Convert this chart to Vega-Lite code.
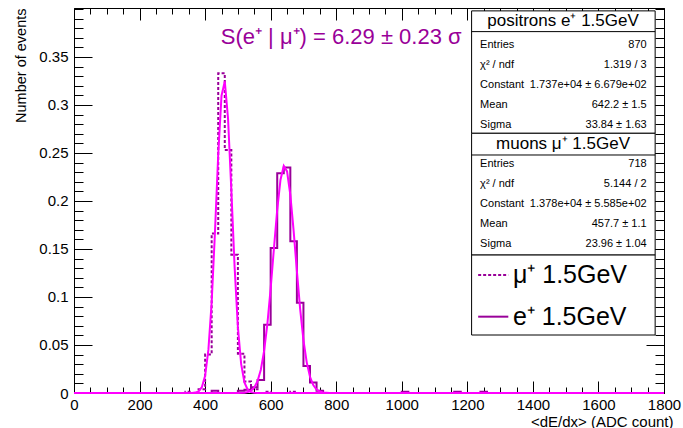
{
  "$schema": "https://vega.github.io/schema/vega-lite/v6.json",
  "width": 590,
  "height": 385,
  "autosize": "none",
  "padding": {"left": 74, "top": 8, "right": 19, "bottom": 35},
  "background": "white",
  "config": {
    "font": "Liberation Sans",
    "view": {"stroke": "black", "strokeWidth": 1},
    "axis": {"grid": false, "domain": false, "tickColor": "black", "tickWidth": 1, "labelColor": "black", "titleColor": "black", "titleFontWeight": "normal", "labelFlush": false}
  },
  "datasets": {
    "hist": [
      {"s": "mu", "x": 0, "v": 0}, {"s": "mu", "x": 340, "v": 0.0014}, {"s": "mu", "x": 360, "v": 0}, {"s": "mu", "x": 380, "v": 0.004},
      {"s": "mu", "x": 400, "v": 0.040}, {"s": "mu", "x": 420, "v": 0.166}, {"s": "mu", "x": 440, "v": 0.333}, {"s": "mu", "x": 460, "v": 0.253},
      {"s": "mu", "x": 480, "v": 0.144}, {"s": "mu", "x": 500, "v": 0.041}, {"s": "mu", "x": 520, "v": 0.012}, {"s": "mu", "x": 540, "v": 0.004},
      {"s": "mu", "x": 560, "v": 0}, {"s": "mu", "x": 580, "v": 0.0014}, {"s": "mu", "x": 600, "v": 0}, {"s": "mu", "x": 660, "v": 0.0014},
      {"s": "mu", "x": 680, "v": 0}, {"s": "mu", "x": 1800, "v": 0},
      {"s": "e", "x": 0, "v": 0}, {"s": "e", "x": 420, "v": 0.0023}, {"s": "e", "x": 440, "v": 0}, {"s": "e", "x": 500, "v": 0.0023},
      {"s": "e", "x": 520, "v": 0.0035}, {"s": "e", "x": 540, "v": 0.006}, {"s": "e", "x": 560, "v": 0.0135}, {"s": "e", "x": 580, "v": 0.071},
      {"s": "e", "x": 600, "v": 0.151}, {"s": "e", "x": 620, "v": 0.229}, {"s": "e", "x": 640, "v": 0.235}, {"s": "e", "x": 660, "v": 0.158},
      {"s": "e", "x": 680, "v": 0.094}, {"s": "e", "x": 700, "v": 0.028}, {"s": "e", "x": 720, "v": 0.011}, {"s": "e", "x": 740, "v": 0.0023},
      {"s": "e", "x": 760, "v": 0}, {"s": "e", "x": 1000, "v": 0.0012}, {"s": "e", "x": 1020, "v": 0}, {"s": "e", "x": 1160, "v": 0.0012},
      {"s": "e", "x": 1180, "v": 0}, {"s": "e", "x": 1240, "v": 0.0012}, {"s": "e", "x": 1260, "v": 0}, {"s": "e", "x": 1800, "v": 0}
    ],
    "fit": [
      {"s": "mu", "x": 0, "v": 0}, {"s": "mu", "x": 340, "v": 0}, {"s": "mu", "x": 360, "v": 0.0001}, {"s": "mu", "x": 370, "v": 0.0004},
      {"s": "mu", "x": 380, "v": 0.0017}, {"s": "mu", "x": 390, "v": 0.006}, {"s": "mu", "x": 400, "v": 0.0179}, {"s": "mu", "x": 410, "v": 0.0449},
      {"s": "mu", "x": 420, "v": 0.0945}, {"s": "mu", "x": 430, "v": 0.1671}, {"s": "mu", "x": 440, "v": 0.2481}, {"s": "mu", "x": 450, "v": 0.3096},
      {"s": "mu", "x": 460, "v": 0.3245}, {"s": "mu", "x": 470, "v": 0.2857}, {"s": "mu", "x": 480, "v": 0.2114}, {"s": "mu", "x": 490, "v": 0.1314},
      {"s": "mu", "x": 500, "v": 0.0686}, {"s": "mu", "x": 510, "v": 0.0301}, {"s": "mu", "x": 520, "v": 0.0111}, {"s": "mu", "x": 530, "v": 0.0034},
      {"s": "mu", "x": 540, "v": 0.0009}, {"s": "mu", "x": 550, "v": 0.0002}, {"s": "mu", "x": 560, "v": 0}, {"s": "mu", "x": 1800, "v": 0},
      {"s": "e", "x": 0, "v": 0}, {"s": "e", "x": 500, "v": 0}, {"s": "e", "x": 520, "v": 0.0003}, {"s": "e", "x": 530, "v": 0.001},
      {"s": "e", "x": 540, "v": 0.0025}, {"s": "e", "x": 550, "v": 0.0058}, {"s": "e", "x": 560, "v": 0.0124}, {"s": "e", "x": 570, "v": 0.0243},
      {"s": "e", "x": 580, "v": 0.0438}, {"s": "e", "x": 590, "v": 0.0721}, {"s": "e", "x": 600, "v": 0.1089}, {"s": "e", "x": 610, "v": 0.1507},
      {"s": "e", "x": 620, "v": 0.1911}, {"s": "e", "x": 630, "v": 0.2221}, {"s": "e", "x": 640, "v": 0.2365}, {"s": "e", "x": 650, "v": 0.2308},
      {"s": "e", "x": 660, "v": 0.2064}, {"s": "e", "x": 670, "v": 0.1691}, {"s": "e", "x": 680, "v": 0.127}, {"s": "e", "x": 690, "v": 0.0874},
      {"s": "e", "x": 700, "v": 0.0551}, {"s": "e", "x": 710, "v": 0.0319}, {"s": "e", "x": 720, "v": 0.0169}, {"s": "e", "x": 730, "v": 0.0082},
      {"s": "e", "x": 740, "v": 0.0036}, {"s": "e", "x": 750, "v": 0.0015}, {"s": "e", "x": 760, "v": 0.0006}, {"s": "e", "x": 780, "v": 0.0001},
      {"s": "e", "x": 800, "v": 0}, {"s": "e", "x": 1800, "v": 0}
    ],
    "stats": [
      {"line": 0, "label": "Entries", "value": "870"},
      {"line": 1, "label": "χ² / ndf", "value": "1.319 / 3"},
      {"line": 2, "label": "Constant", "value": "1.737e+04 ± 6.679e+02"},
      {"line": 3, "label": "Mean", "value": "642.2 ± 1.5"},
      {"line": 4, "label": "Sigma", "value": "33.84 ± 1.63"},
      {"line": 6, "label": "Entries", "value": "718"},
      {"line": 7, "label": "χ² / ndf", "value": "5.144 / 2"},
      {"line": 8, "label": "Constant", "value": "1.378e+04 ± 5.585e+02"},
      {"line": 9, "label": "Mean", "value": "457.7 ± 1.1"},
      {"line": 10, "label": "Sigma", "value": "23.96 ± 1.04"}
    ],
    "one": [{}]
  },
  "layer": [
    {
      "layer": [
        {
          "data": {"name": "hist"},
          "transform": [{"filter": "datum.s === 'mu'"}],
          "mark": {"type": "line", "interpolate": "step-after", "color": "#990099", "strokeWidth": 2, "strokeDash": [3, 2]},
          "encoding": {
            "x": {"field": "x", "type": "quantitative", "scale": {"domain": [0, 1800], "nice": false, "zero": false},
              "axis": {"orient": "bottom", "values": [0, 200, 400, 600, 800, 1000, 1200, 1400, 1600, 1800], "format": "d", "tickSize": -12, "labelPadding": 16, "labelFontSize": 15, "title": "<dE/dx> (ADC count)", "titleFontSize": 15, "titleAnchor": "end", "titleAlign": "right", "titleBaseline": "top", "titleX": 599, "titleY": 21}},
            "y": {"field": "v", "type": "quantitative", "scale": {"domain": [0, 0.401], "nice": false},
              "axis": {"orient": "left", "values": [0, 0.05, 0.1, 0.15, 0.2, 0.25, 0.3, 0.35], "format": "~g", "tickSize": -18, "labelPadding": 24, "labelFontSize": 15, "title": "Number of events", "titleFontSize": 14.5, "titleAnchor": "end", "titlePadding": 10}}
          }
        },
        {
          "data": {"name": "hist"},
          "transform": [{"filter": "datum.s === 'e'"}],
          "mark": {"type": "line", "interpolate": "step-after", "color": "#990099", "strokeWidth": 2},
          "encoding": {
            "x": {"field": "x", "type": "quantitative"},
            "y": {"field": "v", "type": "quantitative"}
          }
        },
        {
          "data": {"name": "fit"},
          "mark": {"type": "line", "color": "#ff00ff", "strokeWidth": 2},
          "encoding": {
            "x": {"field": "x", "type": "quantitative"},
            "y": {"field": "v", "type": "quantitative"},
            "detail": {"field": "s"}
          }
        },
        {
          "data": {"name": "one"},
          "mark": {"type": "text", "text": "S(e⁺ | μ⁺) = 6.29 ± 0.23 σ", "fontSize": 22, "color": "#990099", "align": "center", "baseline": "middle"},
          "encoding": {"x": {"datum": 815}, "y": {"datum": 0.371}}
        },
        {
          "data": {"name": "one"},
          "mark": {"type": "rect", "fill": "white", "stroke": "black", "strokeWidth": 1},
          "encoding": {"x": {"datum": 1213}, "x2": {"datum": 1773}, "y": {"datum": 0.398}, "y2": {"datum": 0.2705}}
        },
        {
          "data": {"name": "one"},
          "mark": {"type": "rect", "fill": "white", "stroke": "black", "strokeWidth": 1},
          "encoding": {"x": {"datum": 1213}, "x2": {"datum": 1773}, "y": {"datum": 0.2705}, "y2": {"datum": 0.1437}}
        },
        {
          "data": {"name": "one"},
          "mark": {"type": "rect", "fill": "white", "stroke": "black", "strokeWidth": 1},
          "encoding": {"x": {"datum": 1213}, "x2": {"datum": 1773}, "y": {"datum": 0.1437}, "y2": {"datum": 0.0604}}
        },
        {
          "data": {"name": "one"},
          "mark": {"type": "rule", "color": "black", "strokeWidth": 1},
          "encoding": {"x": {"datum": 1213}, "x2": {"datum": 1773}, "y": {"datum": 0.3764}}
        },
        {
          "data": {"name": "one"},
          "mark": {"type": "rule", "color": "black", "strokeWidth": 1},
          "encoding": {"x": {"datum": 1213}, "x2": {"datum": 1773}, "y": {"datum": 0.2479}}
        },
        {
          "data": {"name": "one"},
          "mark": {"type": "text", "text": "positrons e⁺ 1.5GeV", "fontSize": 17, "color": "black", "align": "center", "baseline": "middle"},
          "encoding": {"x": {"datum": 1492}, "y": {"datum": 0.3875}}
        },
        {
          "data": {"name": "one"},
          "mark": {"type": "text", "text": "muons μ⁺ 1.5GeV", "fontSize": 17, "color": "black", "align": "center", "baseline": "middle"},
          "encoding": {"x": {"datum": 1492}, "y": {"datum": 0.2594}}
        },
        {
          "data": {"name": "stats"},
          "mark": {"type": "text", "fontSize": 11, "color": "black", "align": "left", "baseline": "middle"},
          "encoding": {
            "x": {"datum": 1239}, "y": {"datum": 0.3625},
            "yOffset": {"field": "line", "type": "quantitative", "scale": {"domain": [0, 10], "range": [0, 199]}},
            "text": {"field": "label"}
          }
        },
        {
          "data": {"name": "stats"},
          "mark": {"type": "text", "fontSize": 11, "color": "black", "align": "right", "baseline": "middle"},
          "encoding": {
            "x": {"datum": 1747}, "y": {"datum": 0.3625},
            "yOffset": {"field": "line", "type": "quantitative", "scale": {"domain": [0, 10], "range": [0, 199]}},
            "text": {"field": "value"}
          }
        },
        {
          "data": {"name": "one"},
          "mark": {"type": "rule", "color": "#990099", "strokeWidth": 2, "strokeDash": [3, 2]},
          "encoding": {"x": {"datum": 1233}, "x2": {"datum": 1325}, "y": {"datum": 0.1229}}
        },
        {
          "data": {"name": "one"},
          "mark": {"type": "rule", "color": "#990099", "strokeWidth": 2},
          "encoding": {"x": {"datum": 1233}, "x2": {"datum": 1325}, "y": {"datum": 0.0795}}
        },
        {
          "data": {"name": "one"},
          "mark": {"type": "text", "text": "μ⁺ 1.5GeV", "fontSize": 25, "color": "black", "align": "left", "baseline": "middle"},
          "encoding": {"x": {"datum": 1339}, "y": {"datum": 0.1229}}
        },
        {
          "data": {"name": "one"},
          "mark": {"type": "text", "text": "e⁺ 1.5GeV", "fontSize": 25, "color": "black", "align": "left", "baseline": "middle"},
          "encoding": {"x": {"datum": 1339}, "y": {"datum": 0.0795}}
        }
      ]
    },
    {
      "data": {"name": "one"},
      "mark": {"type": "point", "opacity": 0},
      "encoding": {
        "x": {"datum": 0, "axis": {"orient": "bottom", "values": [0, 50, 100, 150, 200, 250, 300, 350, 400, 450, 500, 550, 600, 650, 700, 750, 800, 850, 900, 950, 1000, 1050, 1100, 1150, 1200, 1250, 1300, 1350, 1400, 1450, 1500, 1550, 1600, 1650, 1700, 1750, 1800], "tickSize": -6, "labels": false, "title": null}},
        "y": {"datum": 0, "axis": {"orient": "left", "values": [0, 0.01, 0.02, 0.03, 0.04, 0.05, 0.06, 0.07, 0.08, 0.09, 0.1, 0.11, 0.12, 0.13, 0.14, 0.15, 0.16, 0.17, 0.18, 0.19, 0.2, 0.21, 0.22, 0.23, 0.24, 0.25, 0.26, 0.27, 0.28, 0.29, 0.3, 0.31, 0.32, 0.33, 0.34, 0.35, 0.36, 0.37, 0.38, 0.39, 0.4], "tickSize": -9, "labels": false, "title": null}}
      }
    },
    {
      "data": {"name": "one"},
      "mark": {"type": "point", "opacity": 0},
      "encoding": {
        "x": {"datum": 0, "axis": {"orient": "top", "values": [0, 200, 400, 600, 800, 1000, 1200, 1400, 1600, 1800], "tickSize": -12, "labels": false, "title": null}},
        "y": {"datum": 0, "axis": {"orient": "right", "values": [0, 0.05, 0.1, 0.15, 0.2, 0.25, 0.3, 0.35], "tickSize": -18, "labels": false, "title": null}}
      }
    },
    {
      "data": {"name": "one"},
      "mark": {"type": "point", "opacity": 0},
      "encoding": {
        "x": {"datum": 0, "axis": {"orient": "top", "values": [0, 50, 100, 150, 200, 250, 300, 350, 400, 450, 500, 550, 600, 650, 700, 750, 800, 850, 900, 950, 1000, 1050, 1100, 1150, 1200, 1250, 1300, 1350, 1400, 1450, 1500, 1550, 1600, 1650, 1700, 1750, 1800], "tickSize": -6, "labels": false, "title": null}},
        "y": {"datum": 0, "axis": {"orient": "right", "values": [0, 0.01, 0.02, 0.03, 0.04, 0.05, 0.06, 0.07, 0.08, 0.09, 0.1, 0.11, 0.12, 0.13, 0.14, 0.15, 0.16, 0.17, 0.18, 0.19, 0.2, 0.21, 0.22, 0.23, 0.24, 0.25, 0.26, 0.27, 0.28, 0.29, 0.3, 0.31, 0.32, 0.33, 0.34, 0.35, 0.36, 0.37, 0.38, 0.39, 0.4], "tickSize": -9, "labels": false, "title": null}}
      }
    }
  ],
  "resolve": {"axis": {"x": "independent", "y": "independent"}}
}
